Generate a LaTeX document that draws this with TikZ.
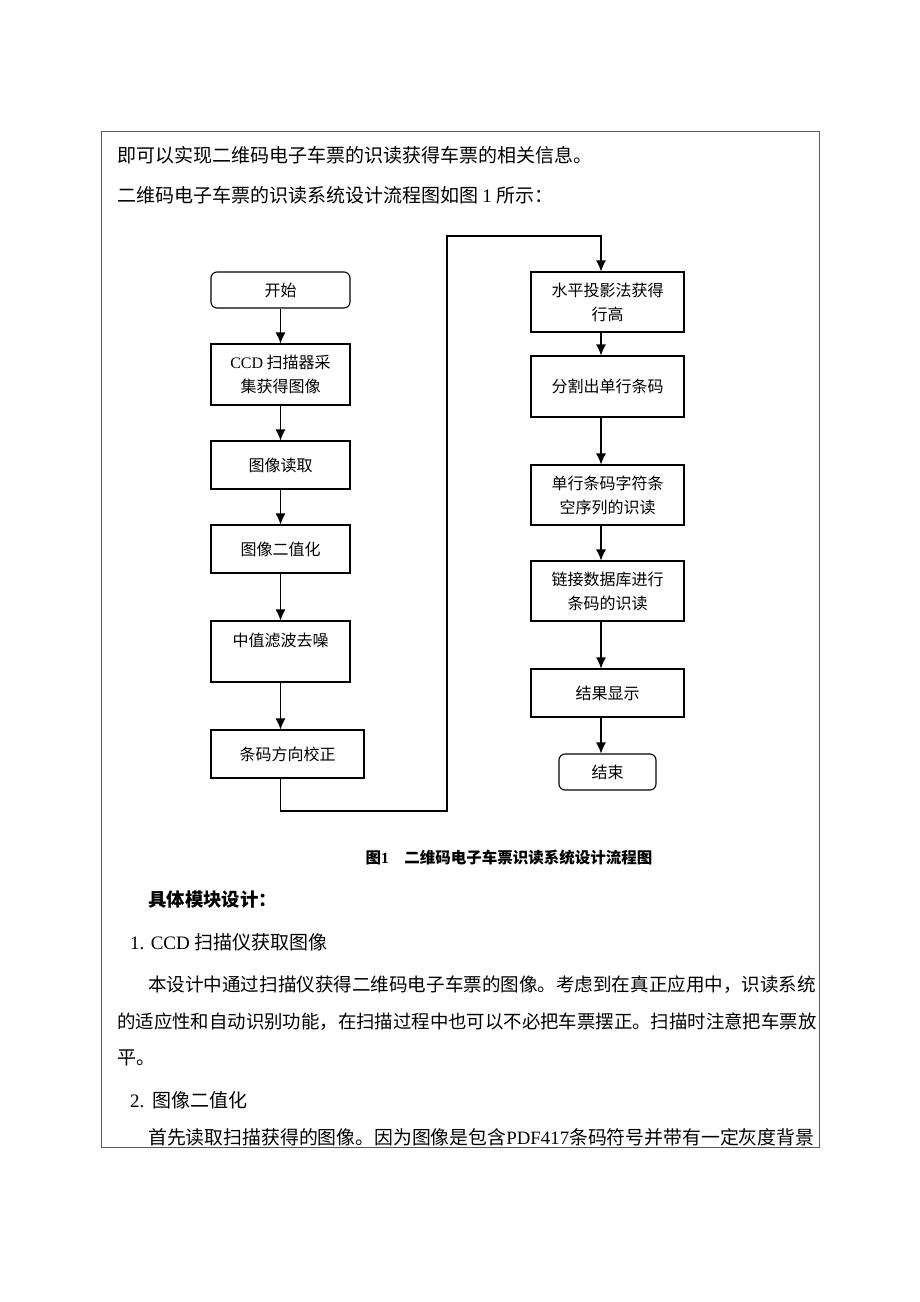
\documentclass[tikz,border=0pt]{standalone}
\usepackage{fontspec}
\setmainfont{Noto Sans CJK SC}
\newfontfamily\lat{Liberation Serif}
\usetikzlibrary{arrows.meta}

\begin{document}
\begin{tikzpicture}[x=1pt, y=-1pt,
  proc/.style={draw, line width=1.1pt, minimum width=139pt, inner sep=0pt,
               align=center, font=\fontsize{16}{24}\selectfont},
  term/.style={proc, rounded corners=6pt, minimum height=36pt},
  arr/.style={line width=1.1pt, -{Latex[length=11pt,width=10pt]}},
  body/.style={anchor=west, inner sep=0pt, font=\fontsize{19}{22}\selectfont}]

\useasboundingbox (0,0) rectangle (920,1302);
\draw[line width=1pt, black!65] (101,131) rectangle (819,1147);

% text above the chart
\node[body] (l1) at (117,155) {即可以实现二维码电子车票的识读获得车票的相关信息。};
\node[body] (l2) at (117,195) {二维码电子车票的识读系统设计流程图如图 {\lat 1} 所示：};

% left column
\node[term] (start) at (280.5,290) {开始};
\node[proc, minimum height=61pt] (ccd) at (280.5,374.5) {{\lat CCD} 扫描器采\\集获得图像};
\node[proc, minimum height=48pt] (read) at (280.5,465) {图像读取};
\node[proc, minimum height=48pt] (bin) at (280.5,549) {图像二值化};
\node[proc, minimum height=61pt] (filt) at (280.5,651.5) {中值滤波去噪\\\mbox{}};
\node[proc, minimum width=153pt, minimum height=48pt] (orient) at (287.5,754) {条码方向校正};

% right column
\node[proc, minimum width=153pt, minimum height=60pt] (horiz) at (607.5,302) {水平投影法获得\\行高};
\node[proc, minimum width=153pt, minimum height=61pt] (split) at (607.5,386.5) {分割出单行条码};
\node[proc, minimum width=153pt, minimum height=60pt] (single) at (607.5,495) {单行条码字符条\\空序列的识读};
\node[proc, minimum width=153pt, minimum height=60pt] (db) at (607.5,591) {链接数据库进行\\条码的识读};
\node[proc, minimum width=153pt, minimum height=48pt] (show) at (607.5,693) {结果显示};
\node[term, minimum width=97pt] (end) at (607.5,772) {结束};

\coordinate (rx) at (601,0);
\coordinate (b1) at (447,811);
\coordinate (t1) at (447,236);

\draw[arr] (start) -- (ccd);
\draw[arr] (ccd) -- (read);
\draw[arr] (read) -- (bin);
\draw[arr] (bin) -- (filt);
\draw[arr] (filt.south) -- (filt.south |- orient.north);
\draw[arr] (orient.south -| filt.south) |- (b1) -- (t1) -| (horiz.north -| rx);

\draw[arr] (horiz.south -| rx) -- (split.north -| rx);
\draw[arr] (split.south -| rx) -- (single.north -| rx);
\draw[arr] (single.south -| rx) -- (db.north -| rx);
\draw[arr] (db.south -| rx) -- (show.north -| rx);
\draw[arr] (show.south -| rx) -- (end.north -| rx);

\node[font=\bfseries\fontsize{15.5}{18}\selectfont] (cap) at (509,858)
  {图{\lat\bfseries 1}\quad 二维码电子车票识读系统设计流程图};

% text below the chart
\node[body, font=\bfseries\fontsize{18.4}{22}\selectfont] (h1) at (148,900) {具体模块设计：};
\node[body] (l3) at (130,942) {{\lat 1. CCD} 扫描仪获取图像};
\node[body, font=\fontsize{18.55}{22}\selectfont] (l4) at (148,985) {本设计中通过扫描仪获得二维码电子车票的图像。考虑到在真正应用中，识读系统};
\node[body, font=\fontsize{18.4}{22}\selectfont] (l5) at (117,1022) {的适应性和自动识别功能，在扫描过程中也可以不必把车票摆正。扫描时注意把车票放};
\node[body] (l6) at (117,1058) {平。};
\node[body] (l7) at (130,1100) {{\lat 2.}\ \ 图像二值化};
\node[body, font=\fontsize{18.85}{22}\selectfont] (l8) at (148,1137) {首先读取扫描获得的图像。因为图像是包含{\lat PDF417}条码符号并带有一定灰度背景};

\end{tikzpicture}
\end{document}
